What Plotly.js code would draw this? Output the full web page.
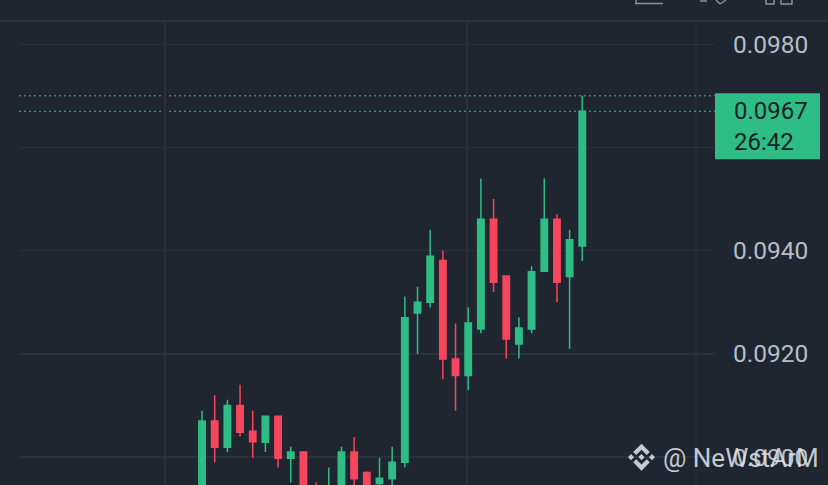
<!DOCTYPE html>
<html>
<head>
<meta charset="utf-8">
<script src="https://cdn.plot.ly/plotly-3.0.1.min.js"></script>
<style>
html,body{margin:0;padding:0;background:#1f2630;}
#chart{width:828px;height:485px;}
</style>
</head>
<body>
<div id="chart"></div>
<script>
// candle index (time order)
const bars  = [0,1,2,3,4,5,6,7,8,9,10,11,12,13,14,15,16,17,18,19,20,21,22,23,24,25,26,27,28,29,30];
const open  = [0.08900,0.09070,0.09019,0.09100,0.09050,0.09029,0.09079,0.08998,0.09010,0.08940,0.08890,0.08930,0.09010,0.08970,0.08949,0.08958,0.08990,0.09279,0.09300,0.09381,0.09190,0.09158,0.09248,0.09461,0.09351,0.09219,0.09248,0.09360,0.09461,0.09350,0.09409];
const high  = [0.09090,0.09120,0.09111,0.09140,0.09090,0.09080,0.09080,0.09020,0.09012,0.08951,0.08980,0.09020,0.09039,0.08972,0.08999,0.09020,0.09311,0.09330,0.09440,0.09400,0.09259,0.09290,0.09540,0.09500,0.09352,0.09271,0.09370,0.09540,0.09470,0.09440,0.09700];
const low   = [0.08890,0.08990,0.09010,0.09040,0.08999,0.09010,0.08980,0.08951,0.08910,0.08880,0.08870,0.08920,0.08940,0.08910,0.08930,0.08940,0.08980,0.09200,0.09290,0.09151,0.09090,0.09130,0.09240,0.09320,0.09191,0.09191,0.09240,0.09360,0.09300,0.09210,0.09380];
const close = [0.09070,0.09019,0.09100,0.09048,0.09030,0.09079,0.08998,0.09010,0.08930,0.08900,0.08935,0.09010,0.08958,0.08930,0.08959,0.08990,0.09270,0.09300,0.09389,0.09190,0.09158,0.09260,0.09461,0.09339,0.09229,0.09250,0.09359,0.09461,0.09339,0.09421,0.09670];

const priceTicks = [0.0900,0.0920,0.0940,0.0960,0.0980];
// 0.0960 label is hidden under the live-price box in the reference
const priceTickText = ['0.0900','0.0920','0.0940','','0.0980'];
const timeGrid = [-2.92, 20.9];
const lastPrice = 0.0967;
const lastHigh = 0.0970;
const countdown = '26:42';
const watermark = '@ NeWstArM';

const GREEN = '#2ebd85', RED = '#f6465d', GRID = '#2a313b', TXT = '#b7bdc6';
const WM = 'rgba(222,224,228,0.88)';

// Binance logo outline (source units 0..126.6), converted to a pixel path
const logoPolys = [
  [[38.73,53.2],[63.3,28.63],[87.9,53.22],[102.2,38.92],[63.3,0],[24.43,38.9]],
  [[0,63.31],[14.3,49],[28.61,63.31],[14.3,77.61]],
  [[97.99,63.31],[112.29,49],[126.6,63.3],[112.3,77.61]],
  [[87.9,73.41],[63.3,98],[38.73,73.43],[24.43,87.72],[63.3,126.62],[102.2,87.71]],
  [[77.83,63.3],[63.3,48.76],[48.77,63.27],[63.3,77.8]]
];
function logoPath(size){
  const s = size/126.6;
  return logoPolys.map(p => 'M' + p.map(q => ((q[0]-63.3)*s).toFixed(2)+','+((63.3-q[1])*s).toFixed(2)).join('L') + 'Z').join(' ');
}

const trace = {
  type:'candlestick', x:bars, open:open, high:high, low:low, close:close,
  increasing:{line:{color:GREEN,width:1.5},fillcolor:GREEN},
  decreasing:{line:{color:RED,width:1.5},fillcolor:RED},
  whiskerwidth:0, hoverinfo:'skip', showlegend:false
};

const layout = {
  width:828, height:485,
  margin:{l:19,r:113,t:22,b:0,pad:0},
  paper_bgcolor:'#1f2630', plot_bgcolor:'#1f2630',
  showlegend:false,
  boxgap:0.28,
  xaxis:{range:[-14.44,40.47], showgrid:true, gridcolor:GRID, gridwidth:1.3,
         tickvals:timeGrid, showticklabels:false, ticks:'', zeroline:false,
         showline:false, rangeslider:{visible:false}, fixedrange:true},
  yaxis:{range:[0.08946,0.09843], side:'right', showgrid:true, gridcolor:GRID, gridwidth:1.3,
         tickvals:priceTicks, ticktext:priceTickText, ticks:'', ticklabelstandoff:17,
         tickfont:{family:'Roboto, sans-serif', size:24.5, color:TXT},
         zeroline:false, showline:false, fixedrange:true},
  shapes:[
    {type:'line', xref:'paper', yref:'paper', x0:-0.03, x1:1.17, y0:1.002, y1:1.002, line:{color:GRID,width:2}, layer:'above'},
    {type:'line', xref:'paper', yref:'paper', x0:0.9727, x1:0.9727, y0:0, y1:1, line:{color:GRID,width:1.3}, layer:'below'},
    {type:'line', xref:'paper', yref:'y', x0:0, x1:1, y0:lastHigh, y1:lastHigh, line:{color:'#8a919c',width:1,dash:'2px,3px'}, layer:'below'},
    {type:'line', xref:'paper', yref:'y', x0:0, x1:1, y0:lastPrice, y1:lastPrice, line:{color:GREEN,width:1,dash:'2px,3px'}, layer:'below'},
    {type:'rect', xref:'paper', yref:'y', xsizemode:'pixel', ysizemode:'pixel', xanchor:1, yanchor:lastPrice,
     x0:0, x1:105, y0:-48, y1:18, fillcolor:GREEN, line:{width:0}, layer:'above'},
    // Binance logo of the watermark
    {type:'path', xref:'paper', yref:'y', xsizemode:'pixel', ysizemode:'pixel', xanchor:(641.5-19)/696, yanchor:priceTicks[0],
     path:logoPath(27), fillcolor:WM, line:{width:0}, layer:'above'},
    // top toolbar icon fragments
    {type:'line', xref:'paper', yref:'paper', x0:(635-19)/696, x1:(663-19)/696, y0:(485-3.5)/463, y1:(485-3.5)/463, line:{color:'#8a919c',width:1.5}, layer:'above'},
    {type:'line', xref:'paper', yref:'paper', x0:(636-19)/696, x1:(636-19)/696, y0:(485-3.5)/463, y1:(485+2)/463, line:{color:'#8a919c',width:1.5}, layer:'above'},
    {type:'line', xref:'paper', yref:'paper', x0:(700-19)/696, x1:(707-19)/696, y0:(485-1)/463, y1:(485-1)/463, line:{color:'#8a919c',width:1.5}, layer:'above'},
    {type:'line', xref:'paper', yref:'paper', x0:(716-19)/696, x1:(720-19)/696, y0:(485-0)/463, y1:(485-4)/463, line:{color:'#8a919c',width:1.5}, layer:'above'},
    {type:'line', xref:'paper', yref:'paper', x0:(720-19)/696, x1:(726-19)/696, y0:(485-4)/463, y1:(485-0)/463, line:{color:'#8a919c',width:1.5}, layer:'above'},
    {type:'rect', xref:'paper', yref:'paper', x0:(766-19)/696, x1:(774-19)/696, y0:(485-4)/463, y1:(485+2)/463, line:{color:'#8a919c',width:1.5}, layer:'above'},
    {type:'rect', xref:'paper', yref:'paper', x0:(781-19)/696, x1:(792-19)/696, y0:(485-4)/463, y1:(485+2)/463, line:{color:'#8a919c',width:1.5}, layer:'above'}
  ],
  annotations:[
    {xref:'paper', yref:'y', x:(732-19)/696, y:lastPrice, xanchor:'left', yanchor:'middle', yshift:-15,
     align:'left', showarrow:false, text:lastPrice.toFixed(4)+'<br>'+countdown,
     font:{family:'Roboto, sans-serif', size:24, color:'#1b2027'}},
    {xref:'paper', yref:'y', x:(661-19)/696, y:priceTicks[0], xanchor:'left', yanchor:'middle', yshift:-1,
     showarrow:false, text:watermark, font:{family:'Roboto, sans-serif', size:26, color:WM}}
  ]
};

Plotly.newPlot('chart',[trace],layout,{displayModeBar:false,staticPlot:true});
</script>
</body>
</html>
